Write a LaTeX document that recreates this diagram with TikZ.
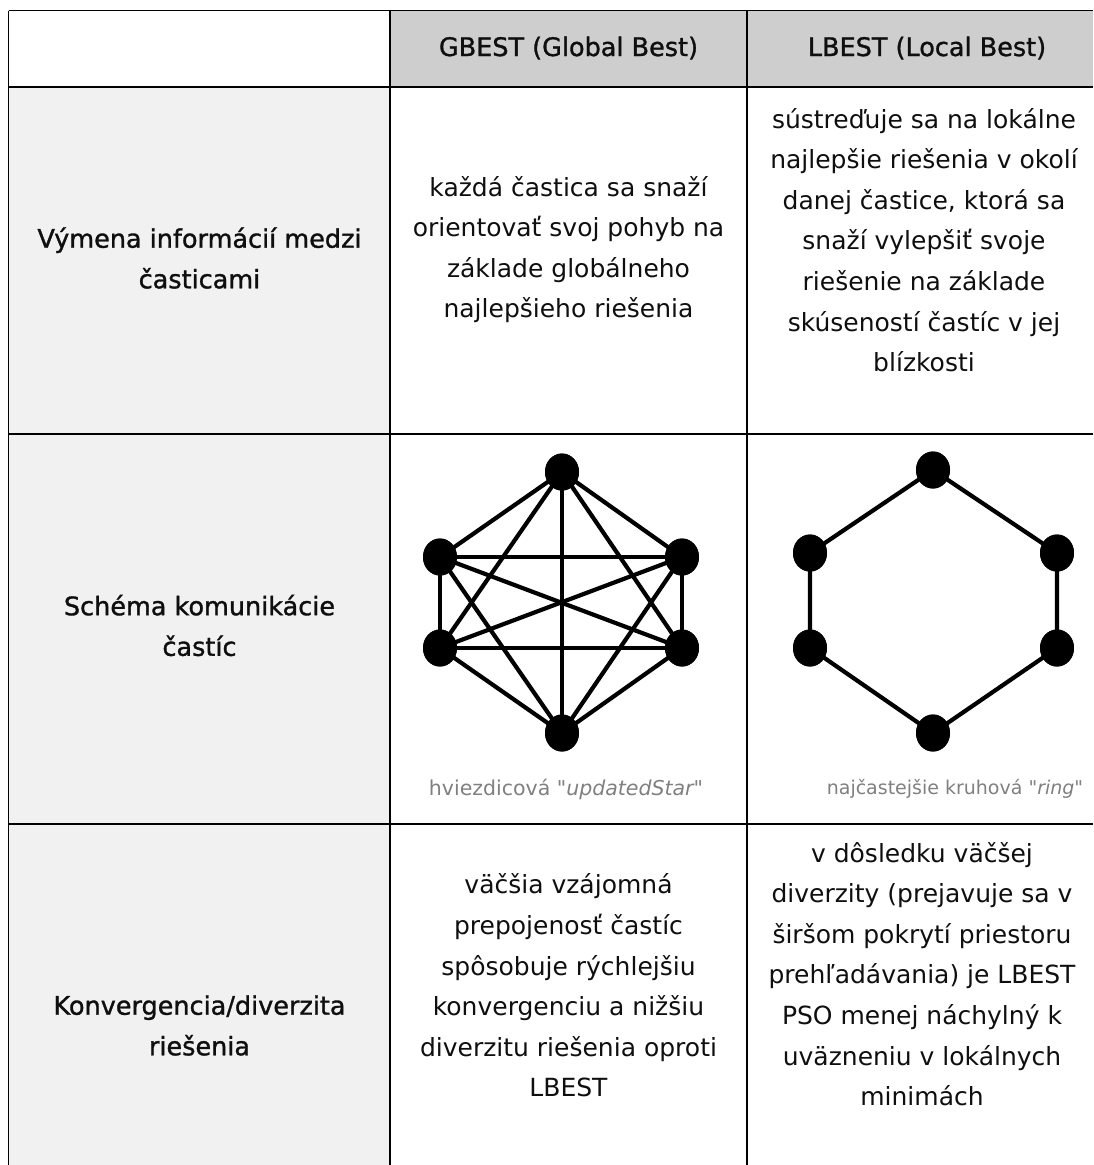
\documentclass[tikz,border=0pt]{standalone}
\usepackage{fontspec}
\setmainfont{DejaVu Sans}
\newfontfamily\medfont[FakeBold=1.2]{DejaVu Sans}
\newfontfamily\capfont[Ligatures=TeXOff]{DejaVu Sans}
\usetikzlibrary{shapes.geometric}
\definecolor{hdrgray}{RGB}{207,206,207}
\definecolor{leftgray}{RGB}{241,241,241}
\definecolor{capgray}{RGB}{128,128,128}
\definecolor{txt}{RGB}{15,15,15}
\tikzset{
  gridline/.style={black, line width=1.3pt},
  bodytext/.style={align=center, text=txt, inner sep=0pt, font=\fontsize{25}{40.6}\selectfont},
  headtext/.style={align=center, text=txt, inner sep=0pt, font=\medfont\fontsize{25.5}{40.6}\selectfont},
  captext/.style={align=center, text=capgray, inner sep=0pt, font=\capfont\fontsize{20.5}{24}\selectfont},
  gnode/.style={ellipse, fill=black, minimum width=34pt, minimum height=37pt, inner sep=0pt},
  linkline/.style={black, line width=4.2pt}
}
\begin{document}
\begin{tikzpicture}[x=1pt,y=-1pt]
\fill[white] (0,0) rectangle (1093,1165);
\useasboundingbox (0,0) rectangle (1093,1165);
% fills
\fill[hdrgray] (390,10.5) rectangle (1093,87);
\fill[leftgray] (8.5,87) rectangle (390,1165);
% grid
\draw[gridline, line width=1.1pt] (8.5,10.5) -- (1093,10.5);
\draw[gridline] (8.5,10.5) -- (8.5,1165);
\draw[gridline, line width=1.1pt] (390,10.5) -- (390,1165);
\draw[gridline, line width=1.1pt] (747,10.5) -- (747,1165);
\draw[gridline, line width=1.8pt] (8.5,87) -- (1093,87);
\draw[gridline] (8.5,434) -- (1093,434);
\draw[gridline] (8.5,824) -- (1093,824);
% header
\node[headtext] (h2) at (568.5,48) {GBEST (Global Best)};
\node[headtext] (h3) at (927,48) {LBEST (Local Best)};
% row 1
\node[headtext] (a1) at (199.5,258) {Výmena informácií medzi\\časticami};
\node[bodytext] (a2) at (568.5,249.5) {každá častica sa snaží\\orientovať svoj pohyb na\\základe globálneho\\najlepšieho riešenia};
\node[bodytext] (a3) at (924,240) {sústreďuje sa na lokálne\\najlepšie riešenia v okolí\\danej častice, ktorá sa\\snaží vylepšiť svoje\\riešenie na základe\\skúseností častíc v jej\\blízkosti};
% row 2
\node[headtext] (b1) at (199.5,625.5) {Schéma komunikácie\\častíc};
\node[gnode] (s1) at (562,472) {};
\node[gnode] (s2) at (440,557) {};
\node[gnode] (s3) at (682,557) {};
\node[gnode] (s4) at (440,648) {};
\node[gnode] (s5) at (682,648) {};
\node[gnode] (s6) at (562,733) {};
\foreach \i/\j in {1/2,1/3,1/4,1/5,1/6,2/3,2/4,2/5,2/6,3/4,3/5,3/6,4/5,4/6,5/6}
  \draw[linkline] (s\i.center) -- (s\j.center);
\node[captext] (c2) at (566,789) {hviezdicová \textit{"updatedStar"}};
\node[gnode] (r1) at (933,470) {};
\node[gnode] (r2) at (810,553) {};
\node[gnode] (r3) at (1057,553) {};
\node[gnode] (r4) at (810,648) {};
\node[gnode] (r5) at (1057,648) {};
\node[gnode] (r6) at (933,733) {};
\draw[linkline] (r1.center) -- (r2.center) -- (r4.center) -- (r6.center) -- (r5.center) -- (r3.center) -- (r1.center);
\foreach \n in {s1,s2,s3,s4,s5,s6,r1,r2,r3,r4,r5,r6}
  \fill[black] (\n.center) ellipse (17pt and 18.5pt);
\node[captext, font=\capfont\fontsize{19}{24}\selectfont] (c3) at (955,789) {najčastejšie kruhová \textit{"ring"}};
% row 3
\node[headtext] (d1) at (199.5,1025.5) {Konvergencia/diverzita\\riešenia};
\node[bodytext] (d2) at (568.5,985.5) {väčšia vzájomná\\prepojenosť častíc\\spôsobuje rýchlejšiu\\konvergenciu a nižšiu\\diverzitu riešenia oproti\\LBEST};
\node[bodytext] (d3) at (922,974) {v dôsledku väčšej\\diverzity (prejavuje sa v\\širšom pokrytí priestoru\\prehľadávania) je LBEST\\PSO menej náchylný k\\uväzneniu v lokálnych\\minimách};
\end{tikzpicture}
\end{document}
